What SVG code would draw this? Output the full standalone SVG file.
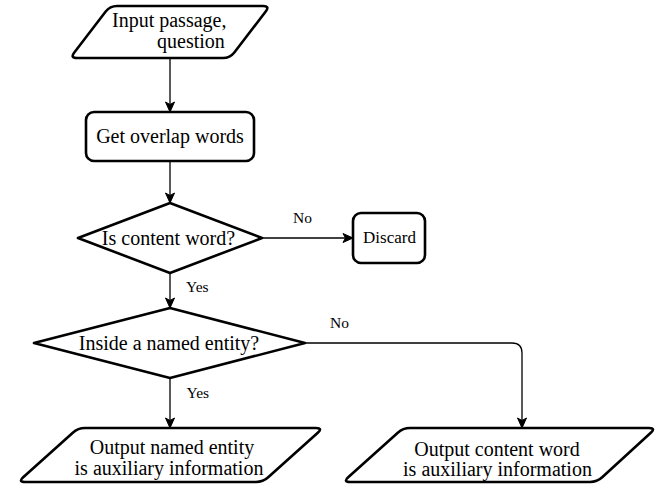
<svg xmlns="http://www.w3.org/2000/svg" width="664" height="485" viewBox="0 0 664 485">
<style>
.shape{fill:#fff;stroke:#000;stroke-width:2.6;stroke-linejoin:round}
.t{font-family:"Liberation Serif","Times New Roman",serif;font-size:20px;fill:#000}
.lbl{font-family:"Liberation Serif","Times New Roman",serif;font-size:15.5px;fill:#000}
.edge{fill:none;stroke:#000;stroke-width:1.3}
</style>
<defs>
<marker id="arr" markerUnits="userSpaceOnUse" markerWidth="12" markerHeight="12" viewBox="0 0 12 12" refX="11" refY="6" orient="auto">
<path d="M1,1.5 L11,6 L1,10.5 L3.5,6 Z" fill="#000" stroke="#000" stroke-width="1" stroke-linejoin="miter"/>
</marker>
</defs>
<rect width="664" height="485" fill="#fff"/>
<g id="connectors">
<line class="edge" x1="170" y1="58" x2="170" y2="112" marker-end="url(#arr)"/>
<line class="edge" x1="170" y1="161" x2="170" y2="203" marker-end="url(#arr)"/>
<line class="edge" x1="170" y1="273" x2="170" y2="308" marker-end="url(#arr)"/>
<line class="edge" x1="262" y1="238" x2="353" y2="238" marker-end="url(#arr)"/>
<line class="edge" x1="170" y1="378" x2="170" y2="428" marker-end="url(#arr)"/>
<path class="edge" d="M305,343 L512,343 Q522,343 522,353 L522,428" marker-end="url(#arr)"/>
<text class="lbl" x="293" y="223">No</text>
<text class="lbl" x="186" y="292">Yes</text>
<text class="lbl" x="186.5" y="398">Yes</text>
<text class="lbl" x="330" y="328">No</text>
</g>
<g id="input">
<path class="shape" d="M117,6 L263,6 Q270,6 265.7,11.5 L234.3,52.5 Q230,58 223,58 L77,58 Q70,58 74.3,52.5 L105.7,11.5 Q110,6 117,6 Z"/>
<text class="t" x="112" y="27">Input passage,</text>
<text class="t" x="157" y="48">question</text>
</g>
<g id="overlap">
<rect class="shape" x="86" y="112" width="168" height="49" rx="8"/>
<text class="t" x="170" y="143" text-anchor="middle">Get overlap words</text>
</g>
<g id="content">
<polygon class="shape" points="170,203 262,238 170,273 78,238"/>
<text class="t" x="168.5" y="245" text-anchor="middle">Is content word?</text>
</g>
<g id="discard">
<rect class="shape" x="353" y="213" width="72" height="50" rx="8"/>
<text class="t" x="389.5" y="243" text-anchor="middle" style="font-size:17px">Discard</text>
</g>
<g id="entity">
<polygon class="shape" points="170,308 305,343 170,378 34,343"/>
<text class="t" x="169" y="350" text-anchor="middle">Inside a named entity?</text>
</g>
<g id="outNamed">
<path class="shape" d="M85,428 L316,428 Q323,428 317.8,432.7 L268.2,477.3 Q263,482 256,482 L25,482 Q18,482 23.2,477.3 L72.8,432.7 Q78,428 85,428 Z"/>
<text class="t" x="172" y="454" text-anchor="middle">Output named entity</text>
<text class="t" x="169" y="475" text-anchor="middle">is auxiliary information</text>
</g>
<g id="outContent">
<path class="shape" d="M410,428 L649,428 Q656,428 650.8,432.7 L602.2,477.3 Q597,482 590,482 L350,482 Q343,482 348.2,477.3 L397.8,432.7 Q403,428 410,428 Z"/>
<text class="t" x="497" y="456" text-anchor="middle">Output content word</text>
<text class="t" x="497.5" y="476" text-anchor="middle">is auxiliary information</text>
</g>
</svg>
